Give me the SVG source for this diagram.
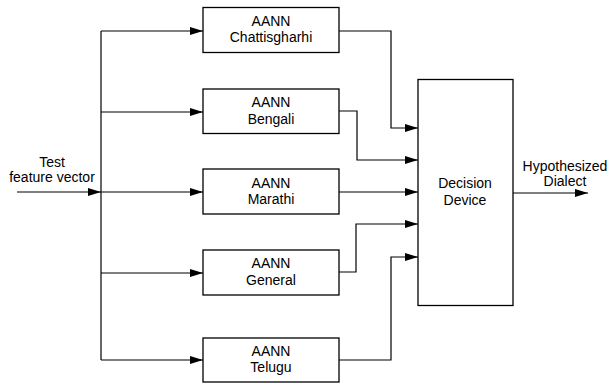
<svg xmlns="http://www.w3.org/2000/svg" width="610" height="383" viewBox="0 0 610 383">
<style>
.box{fill:#fff;stroke:#000;stroke-width:1.3}
.ln{fill:none;stroke:#000;stroke-width:1.2;marker-end:url(#ah)}
.pl{fill:none;stroke:#000;stroke-width:1.2}
text{font-family:"Liberation Sans",Arial,sans-serif;font-size:14px;fill:#000;text-anchor:middle}
</style>
<defs>
<marker id="ah" markerUnits="userSpaceOnUse" markerWidth="13" markerHeight="8" refX="13" refY="4" orient="auto">
<path d="M0,0 L13,4 L0,8 z" fill="#000"/>
</marker>
</defs>
<rect width="610" height="383" fill="#fff"/>
<g id="connectors">
<path class="ln" d="M17,192 H101"/>
<path class="pl" d="M101,31 V360"/>
<path class="ln" d="M101,31 H203"/>
<path class="ln" d="M101,112 H203"/>
<path class="ln" d="M101,192 H203"/>
<path class="ln" d="M101,273 H203"/>
<path class="ln" d="M101,360 H203"/>
<path class="ln" d="M339,31 H391 V128 H418"/>
<path class="ln" d="M339,111 H357 V160 H418"/>
<path class="ln" d="M339,192 H418"/>
<path class="ln" d="M339,272 H356 V224 H418"/>
<path class="ln" d="M339,360 H391 V257 H418"/>
<path class="ln" d="M513,193 H588"/>
</g>
<g id="input-label">
<text x="52" y="167">Test</text>
<text x="52" y="182">feature vector</text>
</g>
<g id="output-label">
<text x="565" y="171">Hypothesized</text>
<text x="565" y="186">Dialect</text>
</g>
<g id="node-chattisgharhi">
<rect class="box" x="203" y="7.5" width="136" height="45"/>
<text x="271" y="25.7">AANN</text>
<text x="271" y="42.3">Chattisgharhi</text>
</g>
<g id="node-bengali">
<rect class="box" x="203" y="89" width="136" height="44.5"/>
<text x="271" y="107">AANN</text>
<text x="271" y="123.6">Bengali</text>
</g>
<g id="node-marathi">
<rect class="box" x="203" y="169" width="136" height="45"/>
<text x="271" y="187.5">AANN</text>
<text x="271" y="204">Marathi</text>
</g>
<g id="node-general">
<rect class="box" x="203" y="250" width="136" height="45"/>
<text x="271" y="268.3">AANN</text>
<text x="271" y="284.8">General</text>
</g>
<g id="node-telugu">
<rect class="box" x="203" y="338" width="136" height="44"/>
<text x="271" y="355.7">AANN</text>
<text x="271" y="372.3">Telugu</text>
</g>
<g id="node-decision">
<rect class="box" x="418" y="79.5" width="95" height="226"/>
<text x="465" y="188.3">Decision</text>
<text x="465" y="205">Device</text>
</g>
</svg>
